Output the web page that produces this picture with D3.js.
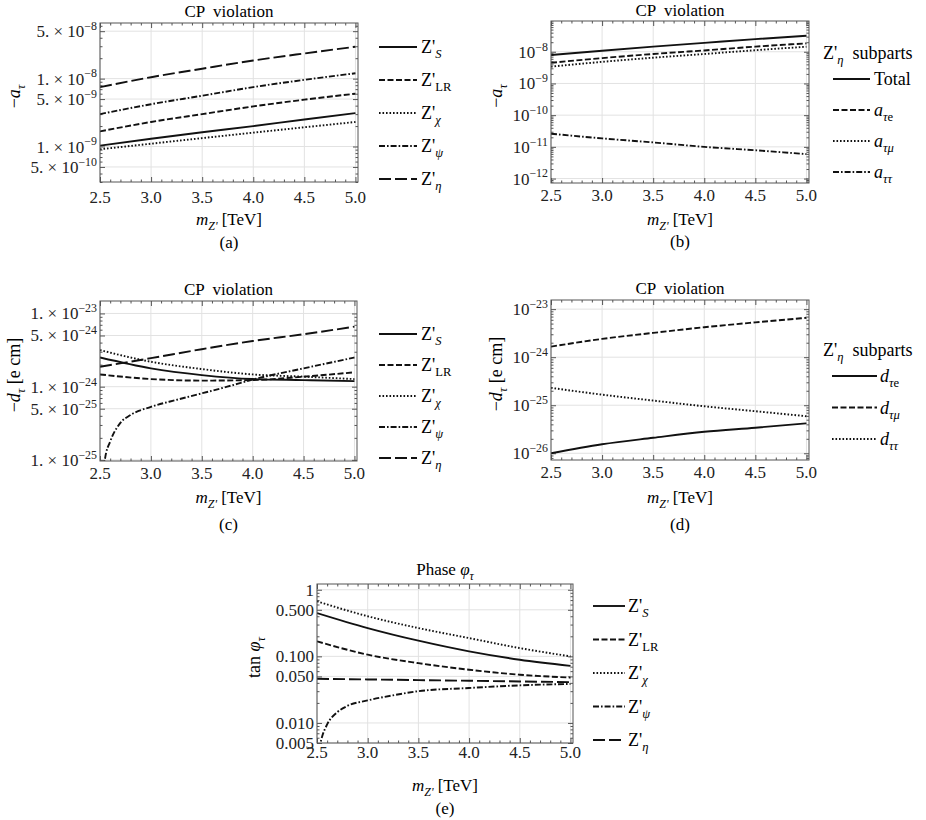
<!DOCTYPE html>
<html>
<head>
<meta charset="utf-8">
<script src="https://cdn.jsdelivr.net/npm/d3@7"></script>
<style>
  body { margin: 0; background: #fff; }
  svg { display: block; font-family: "Liberation Serif", "Times New Roman", serif; }
  text { white-space: pre; }
</style>
</head>
<body>
<div id="root"></div>
<script>
// ---- data ----
const massTeV = [2.5, 3.0, 3.5, 4.0, 4.5, 5.0];
const massTicks = [2.5, 3.0, 3.5, 4.0, 4.5, 5.0];
const models = ["S", "LR", "χ", "ψ", "η"];

// (a) -a_tau per model
const aS = [1.03e-9, 1.3e-9, 1.62e-9, 2.0e-9, 2.5e-9, 3.1e-9];
const aLR = [1.67e-9, 2.3e-9, 3.0e-9, 3.9e-9, 4.9e-9, 6.0e-9];
const aChi = [0.91e-9, 1.1e-9, 1.33e-9, 1.6e-9, 1.92e-9, 2.3e-9];
const aPsi = [3.0e-9, 4.2e-9, 5.6e-9, 7.5e-9, 9.6e-9, 1.2e-8];
const aEta = [7.5e-9, 1.05e-8, 1.4e-8, 1.85e-8, 2.35e-8, 2.95e-8];

// (b) Z'eta subparts of -a_tau
const bSubparts = ["Total", "τe", "τμ", "ττ"];
const bTotal = [7.9e-9, 1.08e-8, 1.45e-8, 1.9e-8, 2.5e-8, 3.2e-8];
const bTauE = [4.5e-9, 6.3e-9, 8.5e-9, 1.1e-8, 1.45e-8, 1.84e-8];
const bTauMu = [3.4e-9, 4.8e-9, 6.5e-9, 8.5e-9, 1.12e-8, 1.44e-8];
const bTauTau = [2.6e-11, 1.85e-11, 1.38e-11, 1.0e-11, 7.8e-12, 5.9e-12];

// (c) -d_tau [e cm] per model
const cS = [2.5e-24, 1.78e-24, 1.44e-24, 1.27e-24, 1.23e-24, 1.19e-24];
const cLR = [1.47e-24, 1.27e-24, 1.21e-24, 1.23e-24, 1.37e-24, 1.57e-24];
const cChi = [3.16e-24, 2.19e-24, 1.74e-24, 1.47e-24, 1.37e-24, 1.27e-24];
const cPsiMass = [2.53, 2.55, 2.6, 2.7, 2.8, 3.0, 3.25, 3.5, 3.75, 4.0, 4.5, 5.0];
const cPsi = [5e-26, 1.05e-25, 1.78e-25, 3.2e-25, 4.1e-25, 5.3e-25, 6.6e-25, 8.1e-25, 1.0e-24, 1.25e-24, 1.78e-24, 2.5e-24];
const cEta = [1.87e-24, 2.45e-24, 3.25e-24, 4.2e-24, 5.2e-24, 6.6e-24];

// (d) Z'eta subparts of -d_tau
const dSubparts = ["τe", "τμ", "ττ"];
const dTauE = [1.0e-26, 1.54e-26, 2.1e-26, 2.8e-26, 3.4e-26, 4.2e-26];
const dTauMu = [1.66e-24, 2.4e-24, 3.2e-24, 4.2e-24, 5.3e-24, 6.6e-24];
const dTauTau = [2.3e-25, 1.66e-25, 1.25e-25, 9.5e-26, 7.5e-26, 5.9e-26];

// (e) tan phi_tau per model
const eS = [0.447, 0.266, 0.172, 0.119, 0.089, 0.072];
const eLR = [0.168, 0.106, 0.079, 0.063, 0.053, 0.048];
const eChi = [0.67, 0.40, 0.266, 0.188, 0.133, 0.1];
const ePsiMass = [2.52, 2.55, 2.6, 2.7, 2.8, 3.0, 3.25, 3.5, 4.0, 4.5, 5.0];
const ePsi = [0.004, 0.0062, 0.0095, 0.0145, 0.018, 0.0218, 0.026, 0.030, 0.0335, 0.0367, 0.0385];
const eEta = [0.046, 0.045, 0.044, 0.043, 0.042, 0.041];

// ---- drawing ----
const width = 926, height = 820;
const xDomain = [2.5, 5.025];
const ink = "#111", frameColor = "#555", gridColor = "#e2e2e2";
const tickFont = 17, labelFont = 17, legendFont = 18;
const dashes = { solid: null, dash: "6,2.5", dot: "1.6,1.9", dashdot: "6,2,1.6,2", longdash: "12,4" };
const modelStyle = { S: "solid", LR: "dash", "χ": "dot", "ψ": "dashdot", "η": "longdash" };

const svg = d3.select("#root").append("svg")
  .attr("width", width).attr("height", height)
  .attr("viewBox", [0, 0, width, height]);

// parts: [text, kind] where kind is "", "i", "sub", "subi", "sup"
function richText(sel, parts, size) {
  let shift = 0;
  parts.forEach(([t, k]) => {
    const sub = k.startsWith("sub"), sup = k.startsWith("sup");
    const target = sub ? size * 0.28 : sup ? -size * 0.42 : 0;
    const ts = sel.append("tspan").text(t).attr("dy", target - shift);
    shift = target;
    if (sub || sup) ts.attr("font-size", size * 0.7);
    if (k.endsWith("i")) ts.attr("font-style", "italic");
  });
  return sel;
}

const sciFmt = (v) => {
  const e = Math.floor(Math.log10(v) + 1e-9);
  const m = Math.round(v / Math.pow(10, e));
  return [[m + ". × 10", ""], ["−" + (-e), "sup"]];
};
const powFmt = (v) => [["10", ""], ["−" + (-Math.round(Math.log10(v))), "sup"]];
const decFmt = (v) => [[v === 1 ? "1" : d3.format(".3f")(v), ""]];

const modelLabel = (m) => [["Z'", ""], [m, m === "LR" ? "sub" : "subi"]];
const subLabel = (letter) => (s) => s === "Total" ? [[s, ""]]
  : [[letter, "i"], ["τ", "subi"], [s.slice(1), s.slice(1) === "e" ? "sub" : "subi"]];

function logMinor(domain, majors) {
  const out = [];
  for (let k = Math.floor(Math.log10(domain[0])); k <= Math.ceil(Math.log10(domain[1])); k++) {
    for (let m = 1; m <= 9; m++) {
      const v = m * Math.pow(10, k);
      if (v >= domain[0] && v <= domain[1] && !majors.some((t) => Math.abs(t / v - 1) < 1e-6)) out.push(v);
    }
  }
  return out;
}

let clipId = 0;
function panel(cfg) {
  const g = svg.append("g");
  const x = d3.scaleLinear().domain(xDomain).range([cfg.x, cfg.x + cfg.w]);
  const y = d3.scaleLog().domain(cfg.yDomain).range([cfg.y + cfg.h, cfg.y]);
  const x0 = cfg.x, x1 = cfg.x + cfg.w, y0 = cfg.y, y1 = cfg.y + cfg.h;

  // grid
  g.append("g").selectAll("line").data(massTicks).join("line")
    .attr("x1", x).attr("x2", x).attr("y1", y0).attr("y2", y1)
    .attr("stroke", gridColor);
  g.append("g").selectAll("line").data(cfg.yMajor).join("line")
    .attr("x1", x0).attr("x2", x1).attr("y1", y).attr("y2", y)
    .attr("stroke", gridColor);

  // ticks (inward, all four sides)
  const xMinor = d3.range(25, 51).map((i) => i / 10).filter((v) => !massTicks.includes(v));
  const yMinor = logMinor(cfg.yDomain, cfg.yMajor);
  const tickAxes = [
    [d3.axisBottom(x), `translate(0,${y1})`, massTicks, xMinor],
    [d3.axisTop(x), `translate(0,${y0})`, massTicks, xMinor],
    [d3.axisLeft(y), `translate(${x0},0)`, cfg.yMajor, yMinor],
    [d3.axisRight(y), `translate(${x1},0)`, cfg.yMajor, yMinor],
  ];
  tickAxes.forEach(([ax, tr, maj, min]) => {
    g.append("g").attr("transform", tr)
      .call(ax.tickValues(maj).tickSize(-5).tickFormat(""))
      .call((s) => s.select(".domain").remove())
      .selectAll("line").attr("stroke", frameColor);
    g.append("g").attr("transform", tr)
      .call(ax.tickValues(min).tickSize(-2.5).tickFormat(""))
      .call((s) => s.select(".domain").remove())
      .selectAll("line").attr("stroke", frameColor);
  });

  // curves
  const id = "clip" + clipId++;
  svg.append("clipPath").attr("id", id).append("rect")
    .attr("x", x0).attr("y", y0).attr("width", cfg.w).attr("height", cfg.h);
  const line = d3.line().x((d) => x(d[0])).y((d) => y(d[1])).curve(d3.curveMonotoneX);
  cfg.series.forEach((s) => {
    g.append("path").datum(d3.zip(s.x, s.y))
      .attr("clip-path", `url(#${id})`)
      .attr("d", line)
      .attr("fill", "none").attr("stroke", ink).attr("stroke-width", 1.9)
      .attr("stroke-dasharray", dashes[s.style]);
  });

  // frame
  g.append("rect").attr("x", x0).attr("y", y0).attr("width", cfg.w).attr("height", cfg.h)
    .attr("fill", "none").attr("stroke", frameColor).attr("stroke-width", 1);

  // tick labels
  g.append("g").selectAll("text").data(massTicks).join("text")
    .attr("x", x).attr("y", cfg.tickY).attr("text-anchor", "middle")
    .attr("font-size", tickFont).attr("fill", "#222")
    .text(d3.format(".1f"));
  g.append("g").selectAll("text").data(cfg.yMajor).join("text")
    .attr("x", x0 - 3).attr("y", (d) => y(d) + 6).attr("text-anchor", "end")
    .attr("font-size", tickFont).attr("fill", "#222")
    .each(function (d) { richText(d3.select(this), cfg.fmt(d), tickFont); });

  const cx = (x0 + x1) / 2;
  richText(g.append("text").attr("x", cx).attr("y", cfg.titleY).attr("text-anchor", "middle")
    .attr("font-size", labelFont), cfg.title, labelFont);
  richText(g.append("text").attr("x", cx).attr("y", cfg.xlabY).attr("text-anchor", "middle")
    .attr("font-size", labelFont), [["m", "i"], ["Z'", "subi"], [" [TeV]", ""]], labelFont);
  g.append("text").attr("x", cx).attr("y", cfg.capY).attr("text-anchor", "middle")
    .attr("font-size", labelFont).text(cfg.caption);
  richText(g.append("text")
    .attr("transform", `translate(${cfg.ylabX},${(y0 + y1) / 2 - 6}) rotate(-90)`)
    .attr("text-anchor", "middle").attr("font-size", 18), cfg.ylab, 18);

  // legend
  const L = cfg.legend;
  if (L.title) {
    richText(g.append("text").attr("x", L.title.x).attr("y", L.title.y).attr("font-size", legendFont),
      [["Z'", ""], ["η", "subi"], ["  subparts", ""]], legendFont);
  }
  const rows = g.append("g").selectAll("g").data(cfg.series).join("g")
    .attr("transform", (d, i) => `translate(0,${L.y0 + i * L.dy})`);
  rows.append("line").attr("x1", L.x0).attr("x2", L.x1)
    .attr("stroke", ink).attr("stroke-width", 1.9)
    .attr("stroke-dasharray", (d) => dashes[d.style]);
  rows.append("text").attr("x", L.tx).attr("y", 6).attr("font-size", legendFont)
    .each(function (d) { richText(d3.select(this), d.label, legendFont); });
}

const mod = (key, xs, ys) => ({ x: xs, y: ys, style: modelStyle[key], label: modelLabel(key) });
const modelSeries = (arrs, psiMass) => models.map((m, i) =>
  mod(m, m === "ψ" && psiMass ? psiMass : massTeV, arrs[i]));

panel({
  x: 100, y: 23, w: 258, h: 159, yDomain: [3e-10, 6.6e-8],
  yMajor: [5e-10, 1e-9, 5e-9, 1e-8, 5e-8], fmt: sciFmt,
  title: [["CP  violation", ""]], titleY: 17,
  ylab: [["−", ""], ["a", "i"], ["τ", "subi"]], ylabX: 20,
  tickY: 203, xlabY: 225, capY: 248, caption: "(a)",
  series: modelSeries([aS, aLR, aChi, aPsi, aEta]),
  legend: { x0: 379, x1: 417, tx: 421, y0: 47, dy: 33 },
});

const bStyles = ["solid", "dash", "dot", "dashdot"];
panel({
  x: 551, y: 21, w: 258, h: 162, yDomain: [Math.pow(10, -12.14), Math.pow(10, -7.03)],
  yMajor: [1e-12, 1e-11, 1e-10, 1e-9, 1e-8], fmt: powFmt,
  title: [["CP  violation", ""]], titleY: 16,
  ylab: [["−", ""], ["a", "i"], ["τ", "subi"]], ylabX: 502,
  tickY: 201, xlabY: 225, capY: 247, caption: "(b)",
  series: [bTotal, bTauE, bTauMu, bTauTau].map((v, i) =>
    ({ x: massTeV, y: v, style: bStyles[i], label: subLabel("a")(bSubparts[i]) })),
  legend: { x0: 833, x1: 870, tx: 874, y0: 79, dy: 31, title: { x: 823, y: 59 } },
});

panel({
  x: 100, y: 301, w: 257, h: 160, yDomain: [Math.pow(10, -25.015), Math.pow(10, -22.83)],
  yMajor: [1e-25, 5e-25, 1e-24, 5e-24, 1e-23], fmt: sciFmt,
  title: [["CP  violation", ""]], titleY: 295,
  ylab: [["−", ""], ["d", "i"], ["τ", "subi"], [" [e cm]", ""]], ylabX: 20,
  tickY: 479, xlabY: 503, capY: 530, caption: "(c)",
  series: modelSeries([cS, cLR, cChi, cPsi, cEta], cPsiMass),
  legend: { x0: 379, x1: 417, tx: 421, y0: 334, dy: 31 },
});

const dStyles = ["solid", "dash", "dot"];
panel({
  x: 551, y: 300, w: 258, h: 160, yDomain: [Math.pow(10, -26.14), Math.pow(10, -22.81)],
  yMajor: [1e-26, 1e-25, 1e-24, 1e-23], fmt: powFmt,
  title: [["CP  violation", ""]], titleY: 294,
  ylab: [["−", ""], ["d", "i"], ["τ", "subi"], [" [e cm]", ""]], ylabX: 502,
  tickY: 478, xlabY: 503, capY: 530, caption: "(d)",
  series: [dTauE, dTauMu, dTauTau].map((v, i) =>
    ({ x: massTeV, y: v, style: dStyles[i], label: subLabel("d")(dSubparts[i]) })),
  legend: { x0: 832, x1: 877, tx: 880, y0: 376, dy: 31.5, title: { x: 823, y: 356 } },
});

panel({
  x: 317, y: 584, w: 256, h: 159, yDomain: [0.005, 1.22],
  yMajor: [0.005, 0.01, 0.05, 0.1, 0.5, 1], fmt: decFmt,
  title: [["Phase ", ""], ["φ", "i"], ["τ", "subi"]], titleY: 575,
  ylab: [["tan ", ""], ["φ", "i"], ["τ", "subi"]], ylabX: 260,
  tickY: 758, xlabY: 791, capY: 814, caption: "(e)",
  series: modelSeries([eS, eLR, eChi, ePsi, eEta], ePsiMass),
  legend: { x0: 593, x1: 625, tx: 628, y0: 606, dy: 33.5 },
});
</script>
</body>
</html>
